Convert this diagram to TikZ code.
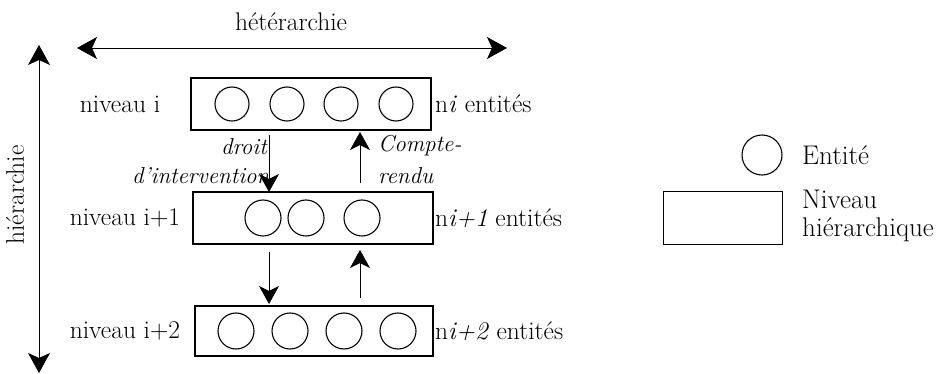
\documentclass[tikz,border=0pt]{standalone}
\usetikzlibrary{arrows.meta}
\tikzset{
  level/.style={draw, line width=1.4pt, inner sep=0pt, minimum width=240pt, minimum height=52pt},
  entity/.style={draw, circle, line width=1.1pt, inner sep=0pt, minimum size=34pt},
  txt/.style={inner sep=0pt, font=\fontsize{25.5}{28}\selectfont},
  ltxt/.style={inner sep=0pt, font=\fontsize{27}{28}\selectfont},
  itxt/.style={inner sep=0pt, font=\fontsize{23}{26}\selectfont\itshape},
  arr/.style={line width=0.8pt, -{Stealth[length=18pt, width=20pt, inset=5pt]}},
  darr/.style={line width=0.8pt, {Stealth[length=20pt, width=22pt, inset=5pt]}-{Stealth[length=20pt, width=22pt, inset=5pt]}}
}
\begin{document}
\begin{tikzpicture}[x=1pt,y=-1pt]
\useasboundingbox (0,0) rectangle (940,374);

     \coordinate (HL) at (77,48);
      \coordinate (HR) at (507,48);
       \coordinate (VT) at (39,45);
        \coordinate (VB) at (39,373);

      \coordinate (a) at (269,135);
      \coordinate (b) at (269,192);
      \coordinate (c) at (360,183);
      \coordinate (d) at (360,132);
      \coordinate (e) at (269,252);
      \coordinate (f) at (269,304);
      \coordinate (g) at (360,298);
      \coordinate (h) at (360,250);

   % levels
   \node[level] (N1) at (311,104) {};
   \node[level] (N2) at (313,218) {};
   \node[level, minimum width=238pt, minimum height=50pt] (N3) at (314,331) {};

   % entities
   \node[entity] (e11) at (232,104) {};
   \node[entity] (e12) at (287,104) {};
   \node[entity] (e13) at (341,104) {};
   \node[entity] (e14) at (396,104) {};

   \node[entity, minimum size=36pt] (e21) at (263,218) {};
   \node[entity, minimum size=36pt] (e22) at (306,218) {};
   \node[entity, minimum size=36pt] (e23) at (362,218) {};

   \node[entity, minimum size=36pt] (e31) at (236,331) {};
   \node[entity, minimum size=36pt] (e32) at (290,331) {};
   \node[entity, minimum size=36pt] (e33) at (344,331) {};
   \node[entity, minimum size=36pt] (e34) at (398,331) {};

   % texts
   \node[txt] (het) at (291,22) {hétérarchie};
   \node[txt, rotate=90] (hie) at (15,195) {hiérarchie};
   \node[txt] (n1) at (120,104) {niveau i};
   \node[txt] (n2) at (125,218) {niveau i+1};
   \node[txt] (n3) at (125,331) {niveau i+2};
   \node[txt, anchor=west] (c1) at (435,104) {n\textit{i} entités};
   \node[txt, anchor=west] (c2) at (435,218) {n\textit{i+1} entités};
   \node[txt, anchor=west] (c3) at (435,331) {n\textit{i+2} entités};

   \node[itxt, anchor=east] (dr) at (267,147) {droit};
   \node[itxt, anchor=west] (di) at (132,176) {d'intervention};
   \node[itxt, anchor=west] (cp) at (378,146) {Compte-};
   \node[itxt, anchor=west] (re) at (378,176) {rendu};

   % legend
   \node[entity, minimum size=40pt] (le) at (762,155) {};
   \node[ltxt, anchor=west] (lt) at (802,155) {Entité};
   \node[level, minimum width=119pt, minimum height=53pt] (ln) at (723,218) {};
   \node[ltxt, anchor=west, align=left] (lh) at (802,216) {Niveau\\hiérarchique};

   % arrows
    \draw[darr] (HL) -- (HR);
    \draw[darr] (VT) -- (VB);
    \draw[arr] (a) -- (b);
    \draw[arr] (c) -- (d);
    \draw[arr] (e) -- (f);
    \draw[arr] (g) -- (h);

\end{tikzpicture}
\end{document}
